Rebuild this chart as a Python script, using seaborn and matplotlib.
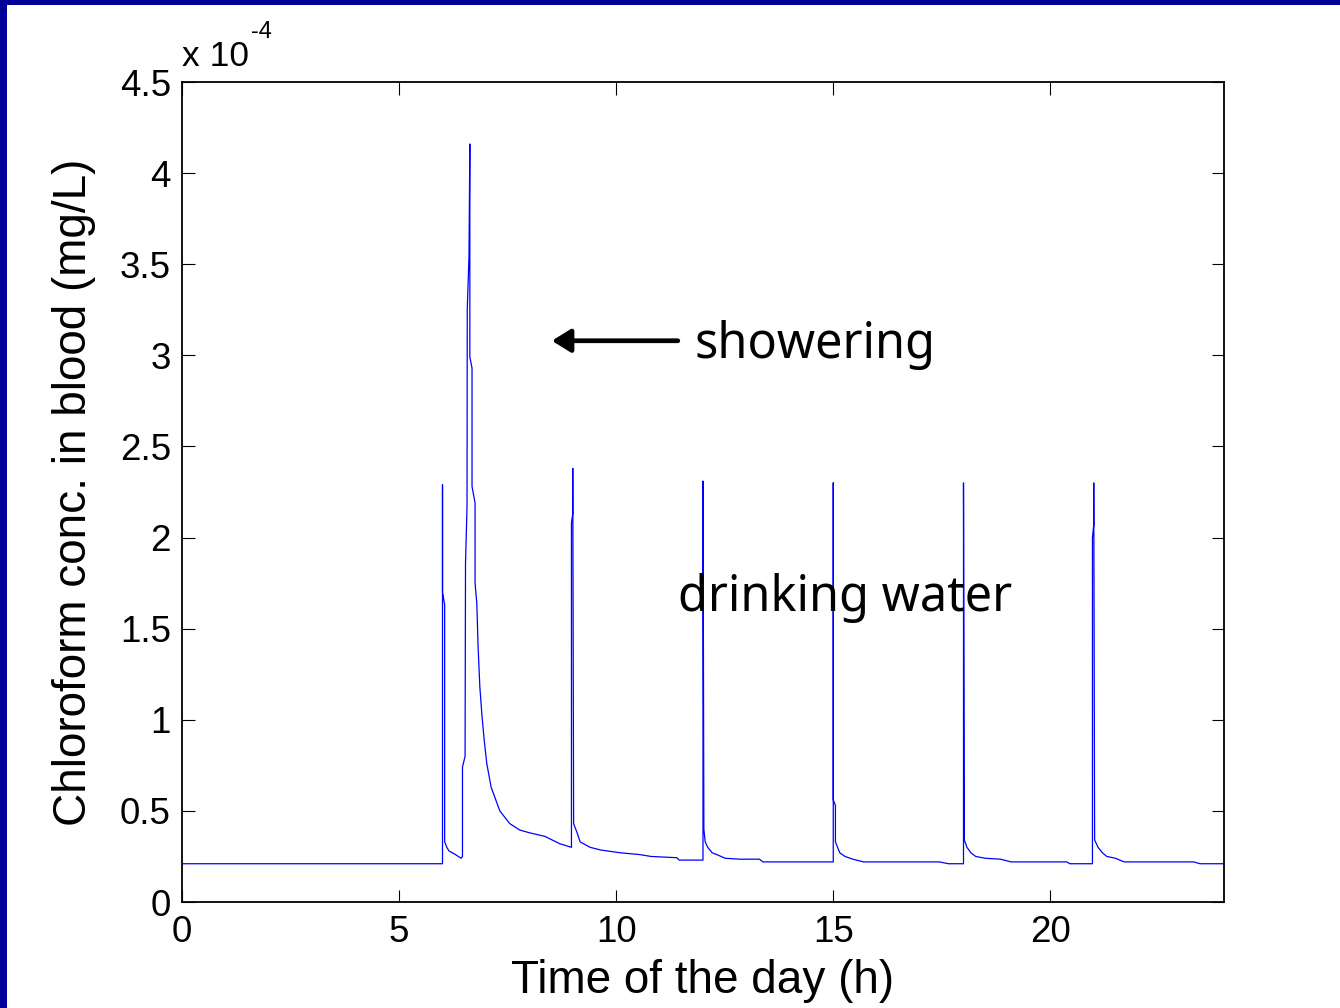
import matplotlib
matplotlib.use("Agg")
import matplotlib.pyplot as plt
import seaborn as sns
import pandas as pd
from matplotlib.patches import Rectangle

# Data: time of day (h) and chloroform concentration in blood (units of 1e-4 mg/L)
time_h = [0.0, 6.0, 6.0, 6.0, 6.05, 6.05, 6.1, 6.15, 6.3, 6.43, 6.46, 6.46, 6.52,
          6.53, 6.565, 6.57, 6.61, 6.63, 6.63, 6.68, 6.68, 6.75, 6.75, 6.79, 6.82,
          6.86, 6.91, 6.96, 7.02, 7.12, 7.32, 7.55, 7.78, 8.0, 8.36, 8.7, 8.97,
          8.97, 9.0, 9.0, 9.02, 9.1, 9.17, 9.4, 9.65, 10.1, 10.55, 10.8, 11.4, 11.45, 12.0,
          12.0, 12.02, 12.05, 12.11, 12.21, 12.32, 12.51, 12.85, 13.3, 13.38, 15.0,
          15.0, 15.0, 15.05, 15.05, 15.15, 15.27, 15.45, 15.7, 17.45, 17.65, 18.0,
          18.0, 18.02, 18.08, 18.17, 18.28, 18.5, 18.85, 19.1, 20.38, 20.45, 20.97,
          20.97, 21.0, 21.0, 21.02, 21.1, 21.2, 21.3, 21.5, 21.7, 23.3, 23.45, 24.0]
conc = [0.21, 0.21, 2.29, 1.70, 1.63, 0.33, 0.30, 0.28, 0.26, 0.24, 0.25, 0.74, 0.80,
        1.86, 2.17, 3.25, 3.54, 4.16, 2.99, 2.93, 2.28, 2.19, 1.75, 1.64, 1.40,
        1.18, 1.02, 0.89, 0.76, 0.63, 0.50, 0.43, 0.395, 0.38, 0.36, 0.32, 0.30,
        2.08, 2.13, 2.38, 0.43, 0.38, 0.33, 0.30, 0.285, 0.27, 0.26, 0.25, 0.243, 0.23, 0.23,
        2.31, 0.40, 0.33, 0.30, 0.27, 0.26, 0.24, 0.235, 0.235, 0.22, 0.22,
        2.30, 0.56, 0.53, 0.33, 0.27, 0.25, 0.235, 0.22, 0.22, 0.21, 0.21,
        2.30, 0.34, 0.30, 0.27, 0.25, 0.24, 0.235, 0.22, 0.22, 0.21, 0.21,
        2.00, 2.07, 2.30, 0.34, 0.30, 0.27, 0.25, 0.24, 0.22, 0.22, 0.21, 0.21]

x_ticks = [0, 5, 10, 15, 20]
y_ticks = [0, 0.5, 1, 1.5, 2, 2.5, 3, 3.5, 4, 4.5]
y_tick_labels = ["0", "0.5", "1", "1.5", "2", "2.5", "3", "3.5", "4", "4.5"]

df = pd.DataFrame({"t": time_h, "c": conc})

sns.set_style("ticks")
plt.rcParams["font.family"] = ["Liberation Sans", "DejaVu Sans"]
plt.rcParams["text.color"] = "black"
plt.rcParams["axes.labelcolor"] = "black"

fig = plt.figure(figsize=(13.4, 10.08), dpi=100)
ax = fig.add_axes([182 / 1340, 1 - 902 / 1008, 1042 / 1340, 820 / 1008])

sns.lineplot(data=df, x="t", y="c", sort=False, estimator=None, ax=ax,
             color="#0000ff", linewidth=0.9)

ax.set_xlim(0, 24)
ax.set_ylim(0, 4.5)
ax.set_xticks(x_ticks)
ax.set_xticklabels([str(v) for v in x_ticks])
ax.set_yticks(y_ticks)
ax.set_yticklabels(y_tick_labels)

for s in ax.spines.values():
    s.set_visible(True)
    s.set_linewidth(1.3)
    s.set_color("black")

ax.tick_params(axis="both", which="both", direction="in", length=9, width=0.8,
               top=True, right=True, labelsize=26.5, colors="black")
ax.tick_params(axis="x", pad=9)
ax.tick_params(axis="y", pad=8)

ax.set_xlabel("Time of the day (h)", fontsize=33, color="black")
ax.set_ylabel("Chloroform conc. in blood (mg/L)", fontsize=33, color="black")
ax.xaxis.set_label_coords(0.5, -0.069)
ax.yaxis.set_label_coords(-0.083, 0.5)

# exponent label
fig.text(182 / 1340, 1 - 66 / 1008, "x 10", fontsize=25.5, ha="left", va="baseline",
         color="black")
fig.text(251 / 1340, 1 - 38 / 1008, "-4", fontsize=17, ha="left", va="baseline",
         color="black")

# annotations
ax.annotate("", xy=(8.52, 3.08), xytext=(11.42, 3.08), xycoords="data",
            arrowprops=dict(arrowstyle="-|>,head_length=0.45,head_width=0.28",
                            lw=3.4, color="black", mutation_scale=25,
                            shrinkA=0, shrinkB=0))
ax.text(11.80, 2.985, "showering", fontsize=35, family=["Noto Sans", "DejaVu Sans"],
        ha="left", va="baseline", color="black")
ax.text(11.43, 1.595, "drinking water", fontsize=35, family=["Noto Sans", "DejaVu Sans"],
        ha="left", va="baseline", color="black")

# slide frame (dark blue band on top and left)
fig.patches.append(Rectangle((0, 1 - 5 / 1008), 1, 5 / 1008, transform=fig.transFigure,
                             facecolor="#000099", edgecolor="none", zorder=10))
fig.patches.append(Rectangle((0, 0), 7 / 1340, 1, transform=fig.transFigure,
                             facecolor="#000099", edgecolor="none", zorder=10))

fig.savefig("out.png", dpi=100)
